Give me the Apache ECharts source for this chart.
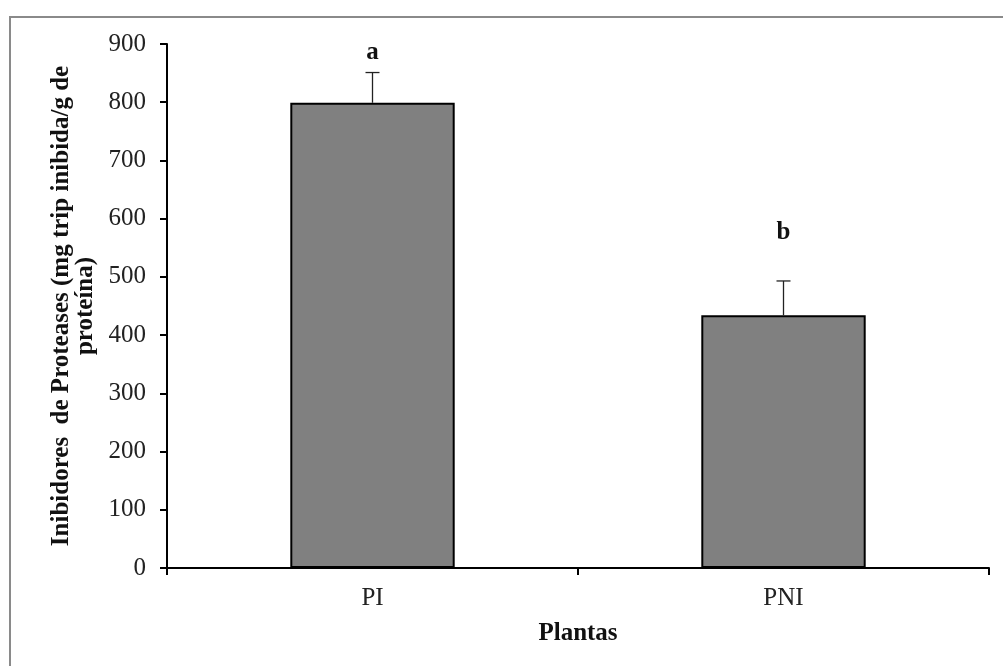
<!DOCTYPE html>
<html><head><meta charset="utf-8">
<script src="https://cdn.jsdelivr.net/npm/echarts@6/dist/echarts.min.js"></script>
<style>html,body{margin:0;padding:0;background:#fff}#c{width:1003px;height:666px}</style>
</head><body><div id="c"></div>
<script>
const categories = ['PI', 'PNI'];
const means = [799, 434];
const errors = [52, 59];
const letters = ['a', 'b'];
const letterValues = [885, 577];
const yTicks = [0, 100, 200, 300, 400, 500, 600, 700, 800, 900];

const chart = echarts.init(document.getElementById('c'), null, {renderer: 'canvas'});
const serif = '"Liberation Serif", "Times New Roman", serif';
chart.setOption({
  animation: false,
  backgroundColor: '#fff',
  graphic: [{
    type: 'rect', shape: {x: 10, y: 17, width: 1100, height: 800},
    style: {fill: 'none', stroke: '#8a8a8a', lineWidth: 2}, z: -1
  }],
  grid: {left: 167, right: 14, top: 44, bottom: 98, containLabel: false},
  xAxis: {
    type: 'category', data: categories,
    axisLine: {lineStyle: {color: '#000', width: 2}},
    axisTick: {show: true, length: 7, lineStyle: {color: '#000', width: 2}, alignWithLabel: false},
    axisLabel: {color: '#222', fontFamily: serif, fontSize: 25, margin: 18},
    name: 'Plantas', nameLocation: 'middle', nameGap: 53,
    nameTextStyle: {color: '#111', fontFamily: serif, fontSize: 25, fontWeight: 'bold'}
  },
  yAxis: {
    type: 'value', min: 0, max: 900, interval: 100,
    axisLine: {show: true, lineStyle: {color: '#000', width: 2}},
    axisTick: {show: true, length: 7, lineStyle: {color: '#000', width: 2}},
    splitLine: {show: false},
    axisLabel: {color: '#222', fontFamily: serif, fontSize: 25, margin: 21,
      formatter: v => yTicks.includes(v) ? String(v) : ''},
    name: 'Inibidores  de Proteases (mg trip inibida/g de\nproteína)',
    nameLocation: 'middle', nameGap: 62,
    nameTextStyle: {color: '#111', fontFamily: serif, fontSize: 25, fontWeight: 'bold', lineHeight: 24, align: 'center'}
  },
  series: [{
    type: 'bar', data: means, barWidth: '40%',
    itemStyle: {color: '#808080', borderColor: '#000', borderWidth: 2}
  }, {
    type: 'custom',
    data: categories.map((c, i) => [i, means[i], errors[i], letterValues[i]]),
    renderItem: function (params, api) {
      const i = api.value(0);
      const top = api.coord([i, api.value(1)]);
      const hi = api.coord([i, api.value(1) + api.value(2)]);
      const lt = api.coord([i, api.value(3)]);
      const cap = 7;
      return {type: 'group', children: [
        {type: 'line', shape: {x1: top[0], y1: top[1], x2: hi[0], y2: hi[1]}, style: {stroke: '#222', lineWidth: 1.3}},
        {type: 'line', shape: {x1: hi[0] - cap, y1: hi[1], x2: hi[0] + cap, y2: hi[1]}, style: {stroke: '#222', lineWidth: 1.3}},
        {type: 'text', x: lt[0], y: lt[1], style: {text: letters[params.dataIndex], fill: '#111',
          font: 'bold 25px ' + serif, align: 'center', verticalAlign: 'middle'}}
      ]};
    },
    z: 5
  }]
});
</script></body></html>
